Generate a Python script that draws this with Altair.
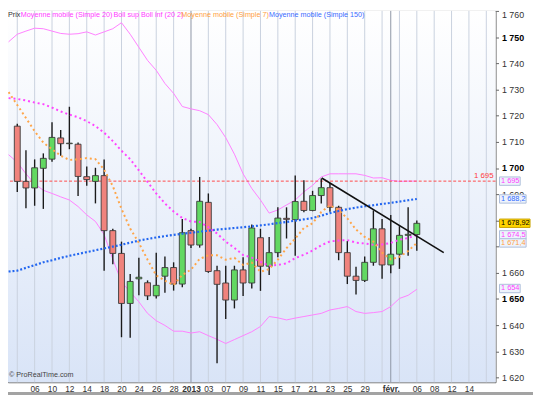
import json
import altair as alt
import pandas as pd

FONT = "Liberation Sans"

# ---------------- data ----------------
cand_idx = list(range(47))  # trading days from 4 Dec 2012 to 6 Feb 2013
opens = [1716.0, 1694.9, 1692.4, 1699.9, 1703.4, 1711.5, 1709.3, 1709.1, 1696.7, 1694.9,
         1697.1, 1676.1, 1667.4, 1648.3, 1657.7, 1656.2, 1651.2, 1658.7, 1662.0, 1655.7,
         1676.1, 1670.6, 1686.9, 1660.8, 1656.1, 1649.6, 1661.1, 1656.1, 1673.4, 1662.5,
         1667.7, 1680.8, 1680.3, 1687.3, 1683.8, 1689.5, 1692.5, 1685.0, 1667.7, 1658.7,
         1657.1, 1664.0, 1676.8, 1663.0, 1667.1, 1674.3, 1674.6]
closes = [1694.9, 1692.4, 1700.1, 1703.7, 1711.7, 1709.3, 1709.5, 1696.8, 1695.6, 1697.1,
          1676.1, 1667.4, 1648.3, 1656.7, 1658.3, 1651.2, 1655.2, 1662.0, 1655.7, 1675.3,
          1670.6, 1687.3, 1660.5, 1655.6, 1649.6, 1661.1, 1656.1, 1677.1, 1662.5, 1667.7,
          1680.9, 1680.4, 1687.2, 1683.8, 1689.5, 1692.5, 1685.0, 1667.7, 1658.7, 1657.1,
          1664.0, 1676.8, 1663.0, 1667.1, 1674.3, 1674.7, 1678.9]
highs = [1716.9, 1706.8, 1703.3, 1705.6, 1717.5, 1714.5, 1723.4, 1709.8, 1700.6, 1700.1,
         1703.3, 1676.8, 1671.9, 1659.5, 1665.7, 1657.1, 1667.7, 1666.2, 1664.0, 1680.5,
         1676.8, 1696.6, 1690.3, 1662.7, 1662.7, 1662.7, 1665.9, 1678.4, 1676.8, 1673.7,
         1685.0, 1685.0, 1697.2, 1695.3, 1691.3, 1696.0, 1694.3, 1685.6, 1672.1, 1662.3,
         1666.2, 1683.8, 1680.5, 1682.1, 1677.8, 1685.0, 1680.0]
lows = [1690.9, 1684.6, 1685.6, 1684.4, 1702.4, 1704.7, 1707.2, 1689.3, 1693.2, 1686.5,
        1660.8, 1663.3, 1635.4, 1635.2, 1651.4, 1649.6, 1650.2, 1652.4, 1653.2, 1654.5,
        1669.5, 1669.6, 1660.0, 1625.5, 1642.4, 1646.4, 1651.1, 1654.0, 1653.1, 1659.2,
        1665.9, 1673.1, 1666.5, 1683.1, 1683.5, 1686.5, 1683.3, 1664.8, 1655.7, 1651.7,
        1656.5, 1662.7, 1657.7, 1659.8, 1661.5, 1666.5, 1668.4]

line_idx = list(range(-1, 47))
ma7 = [1729.0, 1724.1, 1719.1, 1714.1, 1709.7, 1707.2, 1704.7, 1703.1, 1703.3, 1703.8,
       1703.4, 1699.4, 1693.1, 1684.4, 1676.9, 1671.4, 1665.0, 1659.0, 1657.0, 1655.3,
       1659.2, 1661.2, 1665.3, 1666.7, 1666.7, 1665.0, 1665.7, 1663.0, 1663.9, 1660.4,
       1661.4, 1665.0, 1669.4, 1673.1, 1677.1, 1678.9, 1683.2, 1685.8, 1683.9, 1680.8,
       1676.5, 1673.7, 1671.9, 1667.7, 1665.1, 1666.1, 1668.3, 1671.4]
ma20 = [1726.7, 1726.4, 1725.8, 1725.0, 1724.4, 1723.1, 1721.6, 1720.4, 1719.4, 1717.9,
        1716.0, 1713.5, 1710.3, 1706.6, 1703.4, 1699.1, 1694.7, 1690.3, 1686.5, 1683.4,
        1680.9, 1679.6, 1679.4, 1677.4, 1675.0, 1671.9, 1669.5, 1666.8, 1665.8, 1664.2,
        1662.7, 1663.0, 1663.6, 1665.6, 1666.9, 1668.5, 1670.5, 1672.0, 1672.3, 1672.5,
        1671.5, 1671.2, 1670.7, 1670.8, 1671.4, 1672.6, 1673.3, 1674.4]
boll_sup = [1748.2, 1751.1, 1752.3, 1753.4, 1753.2, 1752.3, 1751.4, 1751.1, 1751.3, 1752.0,
            1750.8, 1752.0, 1753.2, 1755.5, 1751.1, 1746.1, 1741.1, 1737.3, 1732.3, 1728.5,
            1723.5, 1722.6, 1721.9, 1720.4, 1716.6, 1711.6, 1705.3, 1697.8, 1692.2, 1687.8,
            1682.8, 1684.0, 1685.9, 1687.8, 1690.9, 1693.4, 1696.6, 1697.8, 1697.8, 1697.8,
            1697.8, 1697.2, 1696.2, 1696.3, 1695.3, 1694.9, 1695.0, 1695.0]
boll_inf = [1705.1, 1702.2, 1697.8, 1694.0, 1691.5, 1690.3, 1689.0, 1687.8, 1685.3, 1682.1,
            1679.6, 1674.6, 1665.2, 1656.5, 1652.7, 1648.9, 1644.5, 1641.7, 1639.9, 1637.7,
            1637.7, 1637.0, 1637.5, 1636.0, 1634.6, 1633.0, 1634.5, 1636.0, 1637.5, 1639.5,
            1643.3, 1642.8, 1642.0, 1642.7, 1643.3, 1643.9, 1644.5, 1645.8, 1646.4, 1647.1,
            1645.2, 1644.5, 1644.8, 1645.2, 1647.1, 1650.2, 1651.4, 1653.7]
ma150 = [1660.5, 1660.8, 1661.9, 1662.9, 1664.0, 1664.8, 1665.7, 1666.5, 1667.2, 1667.9,
         1668.6, 1669.3, 1670.0, 1670.7, 1671.5, 1672.3, 1672.9, 1673.5, 1674.0, 1674.5,
         1674.9, 1675.3, 1675.7, 1676.1, 1676.5, 1676.8, 1677.1, 1677.4, 1677.7, 1678.1,
         1678.5, 1679.0, 1679.4, 1679.9, 1680.4, 1680.9, 1681.8, 1682.8, 1683.6, 1684.3,
         1684.9, 1685.4, 1685.8, 1686.3, 1686.7, 1687.2, 1687.7, 1688.2]

tick_idx = [2, 4, 6, 8, 10, 12, 14, 16, 18, 20, 22, 24, 26, 28, 30, 32, 34, 36, 38, 40,
            43, 46, 48, 50, 52]
tick_lab = ["06", "10", "12", "14", "18", "20", "24", "26", "28", "2013", "03", "07", "09",
            "11", "15", "17", "21", "23", "25", "29", "févr.", "06", "08", "12", "14"]
grid_idx = [0, 2, 4, 6, 8, 10, 12, 14, 16, 18, 22, 24, 26, 28, 30, 32, 34, 36, 38, 40, 42,
            44, 46, 48, 50, 52, 54]
month_idx = [20, 43]
y_ticks = list(range(1620, 1761, 10))
y_hidden = [1670, 1680]  # labels covered by the value tags

trend_x = [35.05, 49.1]
trend_y = [1696.2, 1667.7]
ref_level = [1695]

tag_vals = [1695, 1688.2, 1678.92, 1674.5, 1671.4, 1654]
tag_labs = ["1 695", "1 688,2", "1 678,92", "1 674,5", "1 671,4", "1 654"]
tag_text = ["#FF3CFF", "#2F6BFF", "#000000", "#FF3CFF", "#FFA040", "#FF3CFF"]
tag_fill = ["#EEF3FC", "#EEF3FC", "#FFD400", "#EEF3FC", "#EEF3FC", "#EEF3FC"]
tag_stroke = ["#AEBEDA", "#AEBEDA", "#C9A400", "#AEBEDA", "#AEBEDA", "#AEBEDA"]
tag_w = [21, 27, 31, 27, 27, 21]

legend_items = ["Prix", "Moyenne mobile (Simple 20)", "Boll sup Boll inf (20 2)",
                "Moyenne mobile (Simple 7)", "Moyenne mobile (Simple 150)"]
legend_cols = ["#333333", "#FF3CFF", "#FF3CFF", "#FFA040", "#3A6CFF"]
legend_px = [0, 13, 107, 176, 265]

# ---------------- layout ----------------
W, H = 495, 377
XDOM = [-0.5, 54.5]
YDOM = [1618.2, 1760.0]

cdf = pd.DataFrame({"i": cand_idx, "open": opens, "close": closes, "high": highs, "low": lows})
ldf = pd.DataFrame({"i": line_idx, "ma7": ma7, "ma20": ma20, "up": boll_sup, "lo": boll_inf,
                    "ma150": ma150})
gdf = pd.DataFrame({"i": grid_idx + month_idx,
                    "c": ["#C9D1DE"] * len(grid_idx) + ["#8D95A5"] * len(month_idx)})
tdf = pd.DataFrame({"i": trend_x, "v": trend_y})
rdf = pd.DataFrame({"v": ref_level})
tagdf = pd.DataFrame({"v": tag_vals, "lab": tag_labs, "tc": tag_text, "fc": tag_fill,
                      "sc": tag_stroke, "w": tag_w})
one = pd.DataFrame({"a": [0]})

label_expr = (json.dumps(tick_lab, ensure_ascii=False) + "[indexof(" + json.dumps(tick_idx)
              + ", datum.value)]")
y_label_expr = ("indexof(" + json.dumps(y_hidden) + ", datum.value) >= 0 ? '' : "
                "'1 ' + substring(toString(datum.value), 1)")

xscale = alt.Scale(domain=XDOM, nice=False, zero=False)
yscale = alt.Scale(domain=YDOM, nice=False, zero=False)

X = alt.X("i:Q", scale=xscale, title=None,
          axis=alt.Axis(values=tick_idx, labelExpr=label_expr, grid=False, ticks=False,
                        domain=False, labelFont=FONT, labelFontSize=8.5, labelColor="#333333",
                        labelPadding=2, labelOverlap=False, labelFlush=False,
                        labelFontWeight={"condition": {"test": "datum.value == 20 || datum.value == 43",
                                                       "value": "bold"}, "value": "normal"}))

def Y(field):
    return alt.Y(field, scale=yscale, title=None,
                 axis=alt.Axis(orient="right", values=y_ticks, grid=False, domain=False,
                               tickSize=3, tickColor="#666666", labelPadding=3,
                               labelFont=FONT, labelFontSize=9, labelFlush=True,
                               labelOverlap=False, labelExpr=y_label_expr,
                               labelColor={"condition": {"test": "datum.value % 50 == 0",
                                                         "value": "#000000"}, "value": "#333333"},
                               labelFontWeight={"condition": {"test": "datum.value % 50 == 0",
                                                              "value": "bold"}, "value": "normal"}))

bg = alt.Chart(one).mark_rect(
    color=alt.Gradient(gradient="linear",
                       stops=[alt.GradientStop(color="#FFFFFF", offset=0),
                              alt.GradientStop(color="#D9E4F7", offset=1)],
                       x1=0, x2=0, y1=0, y2=1)
).encode(x=alt.value(0), x2=alt.value(W), y=alt.value(0), y2=alt.value(H))

grid = alt.Chart(gdf).mark_rule(strokeWidth=1).encode(
    x=X, color=alt.Color("c:N", scale=None))

ref = alt.Chart(rdf).mark_rule(color="#FF4A4A", strokeWidth=1, strokeDash=[3, 2]).encode(y=Y("v:Q"))
ref_txt = alt.Chart(rdf).mark_text(align="right", baseline="bottom", dy=-1, fontSize=8,
                                   font=FONT, color="#FF3B3B").encode(
    x=alt.value(493), y=Y("v:Q"), text=alt.value("1 695"))

base_l = alt.Chart(ldf)
bands = [base_l.mark_line(color="#FF80FF", strokeWidth=1, clip=True).encode(x=X, y=Y(f))
         for f in ["up:Q", "lo:Q"]]
l_ma20 = base_l.mark_line(color="#FF44FF", strokeWidth=2, strokeDash=[2, 3], clip=True).encode(x=X, y=Y("ma20:Q"))
l_ma7 = base_l.mark_line(color="#FFA548", strokeWidth=2, strokeDash=[2, 3], clip=True).encode(x=X, y=Y("ma7:Q"))
l_ma150 = base_l.mark_line(color="#2266F0", strokeWidth=2.2, strokeDash=[2, 2], clip=True).encode(x=X, y=Y("ma150:Q"))

base_c = alt.Chart(cdf)
wicks = base_c.mark_rule(color="#1A1A1A", strokeWidth=1.4).encode(x=X, y=Y("low:Q"), y2="high:Q")
bodies = base_c.mark_bar(size=6, stroke="#3A3A3A", strokeWidth=0.9).encode(
    x=X, y=Y("open:Q"), y2="close:Q",
    fill=alt.condition("datum.close >= datum.open", alt.value("#62D862"), alt.value("#F0837D")))

trend = alt.Chart(tdf).mark_line(color="#111111", strokeWidth=1.6).encode(x=X, y=Y("v:Q"))

tag_layers = []
for w in sorted(set(tag_w)):
    tag_layers.append(
        alt.Chart(tagdf).transform_filter(alt.datum.w == w)
        .transform_calculate(top="datum.v + 1.6", bot="datum.v - 1.6")
        .mark_rect(strokeWidth=1)
        .encode(x=alt.value(499), x2=alt.value(499 + w), y=Y("top:Q"), y2="bot:Q",
                fill=alt.Fill("fc:N", scale=None), stroke=alt.Stroke("sc:N", scale=None)))
tag_txt = alt.Chart(tagdf).mark_text(align="left", baseline="middle", fontSize=7.5, font=FONT).encode(
    x=alt.value(500.5), y=Y("v:Q"), text="lab:N", color=alt.Color("tc:N", scale=None))

legend = [alt.Chart(one).mark_text(text=t, align="left", baseline="middle", fontSize=7.3,
                                   font=FONT, color=c).encode(x=alt.value(px), y=alt.value(4))
          for t, c, px in zip(legend_items, legend_cols, legend_px)]

brand = alt.Chart(one).mark_text(text="© ProRealTime.com", align="left", baseline="middle",
                                 fontSize=7.3, font=FONT, color="#444444").encode(
    x=alt.value(1), y=alt.value(370))

bottom_band = alt.Chart(one).mark_rect(color="#A3A3A3").encode(
    x=alt.value(-8), x2=alt.value(533), y=alt.value(387), y2=alt.value(390))

chart = alt.layer(
    bg, grid, *bands, ref, ref_txt, wicks, bodies, l_ma150, l_ma20, l_ma7, trend,
    *tag_layers, tag_txt, *legend, brand, bottom_band
).properties(
    width=W, height=H,
    autosize=alt.AutoSizeParams(type="none"),
    padding={"left": 0, "top": 0, "right": 38, "bottom": 12},
    background="#FFFFFF",
).configure_view(stroke="#666666", strokeWidth=1)

chart.save("out.html", embed_options={"renderer": "svg", "actions": False})
